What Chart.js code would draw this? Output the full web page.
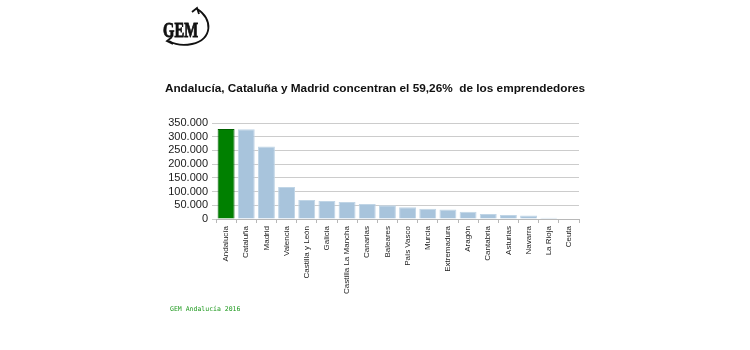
<!DOCTYPE html>
<html>
<head>
<meta charset="utf-8">
<script src="https://cdn.jsdelivr.net/npm/chart.js@4/dist/chart.umd.min.js"></script>
<style>
	html, body { margin: 0; padding: 0; background: #fff; }
	#wrap { position: relative; width: 750px; height: 350px; overflow: hidden; }
	#chart { position: absolute; left: 0; top: 0; }
	#logo { position: absolute; left: 0; top: 0; }
	#title {
		position: absolute; left: 0; top: 81px; width: 750px; text-align: center;
		font: bold 11.8px "Liberation Sans", Arial, sans-serif; color: #111; white-space: pre;
	}
	#source {
		position: absolute; left: 170px; top: 305px;
		font: 6.5px "DejaVu Sans Mono", monospace; color: #1f9a1f;
	}
</style>
</head>
<body>
<div id="wrap">
	<canvas id="chart" width="750" height="350"></canvas>
	<svg id="logo" width="230" height="60">
		<text x="163" y="37" font-family="Liberation Serif, serif" font-weight="bold" font-size="21"
			textLength="35" lengthAdjust="spacingAndGlyphs" fill="#111" stroke="#111" stroke-width="0.9">GEM</text>
		<path d="M 197 9 C 213 18, 213 40, 192 44 C 182 46, 174 44, 169 41" fill="none" stroke="#111" stroke-width="1.8"/>
		<path d="M 192 12 L 197 8 L 199 14" fill="none" stroke="#111" stroke-width="1.8"/>
		<path d="M 172 37 L 167 41 L 173 44" fill="none" stroke="#111" stroke-width="1.8"/>
	</svg>
	<div id="title">Andalucía, Cataluña y Madrid concentran el 59,26%  de los emprendedores</div>
	<div id="source">GEM Andalucía 2016</div>
</div>
<script>
	'use strict';

	var regions = ['Andalucía', 'Cataluña', 'Madrid', 'Valencia', 'Castilla y León', 'Galicia',
		'Castilla La Mancha', 'Canarias', 'Baleares', 'País Vasco', 'Murcia', 'Extremadura',
		'Aragón', 'Cantabria', 'Asturias', 'Navarra', 'La Rioja', 'Ceuta'];
	var entrepreneurs = [328000, 327000, 264000, 117000, 69000, 66000, 62000, 55000, 50000,
		43000, 37000, 35000, 26000, 18000, 15000, 12500, 5000, 1500];
	var yTicks = [0, 50000, 100000, 150000, 200000, 250000, 300000, 350000];

	function formatThousands(v) {
		return String(v).replace(/\B(?=(\d{3})+(?!\d))/g, '.');
	}

	var fills = regions.map(function (r, i) { return i === 0 ? '#008000' : '#a8c4dc'; });
	var borders = regions.map(function (r, i) { return i === 0 ? '#006000' : '#c0d5e6'; });

	new Chart(document.getElementById('chart'), {
		type: 'bar',
		data: {
			labels: regions,
			datasets: [{
				data: entrepreneurs,
				backgroundColor: fills,
				borderColor: borders,
				borderWidth: 1,
				barPercentage: 0.84,
				categoryPercentage: 1
			}]
		},
		options: {
			responsive: false,
			animation: false,
			layout: { padding: { left: 0, right: 171, top: 123, bottom: 0 } },
			plugins: {
				legend: { display: false },
				tooltip: { enabled: false }
			},
			scales: {
				x: {
					afterFit: function (scale) { scale.height = 131; },
					grid: { drawOnChartArea: false, color: '#b8b8b8', tickLength: 4 },
					border: { color: '#b8b8b8' },
					ticks: {
						minRotation: 90,
						maxRotation: 90,
						autoSkip: false,
						padding: 3,
						color: '#222',
						font: { family: 'Liberation Sans, Arial, sans-serif', size: 8 }
					}
				},
				y: {
					min: 0,
					max: 350000,
					afterFit: function (scale) { scale.width = 216; },
					afterBuildTicks: function (scale) {
						scale.ticks = yTicks.map(function (v) { return { value: v }; });
					},
					grid: { color: '#cccccc', lineWidth: 1, tickLength: 4 },
					border: { display: false },
					ticks: {
						autoSkip: false,
						padding: 4,
						color: '#1a1a1a',
						font: { family: 'Liberation Sans, Arial, sans-serif', size: 11 },
						callback: function (v) { return formatThousands(v); }
					}
				}
			}
		}
	});
</script>
</body>
</html>
